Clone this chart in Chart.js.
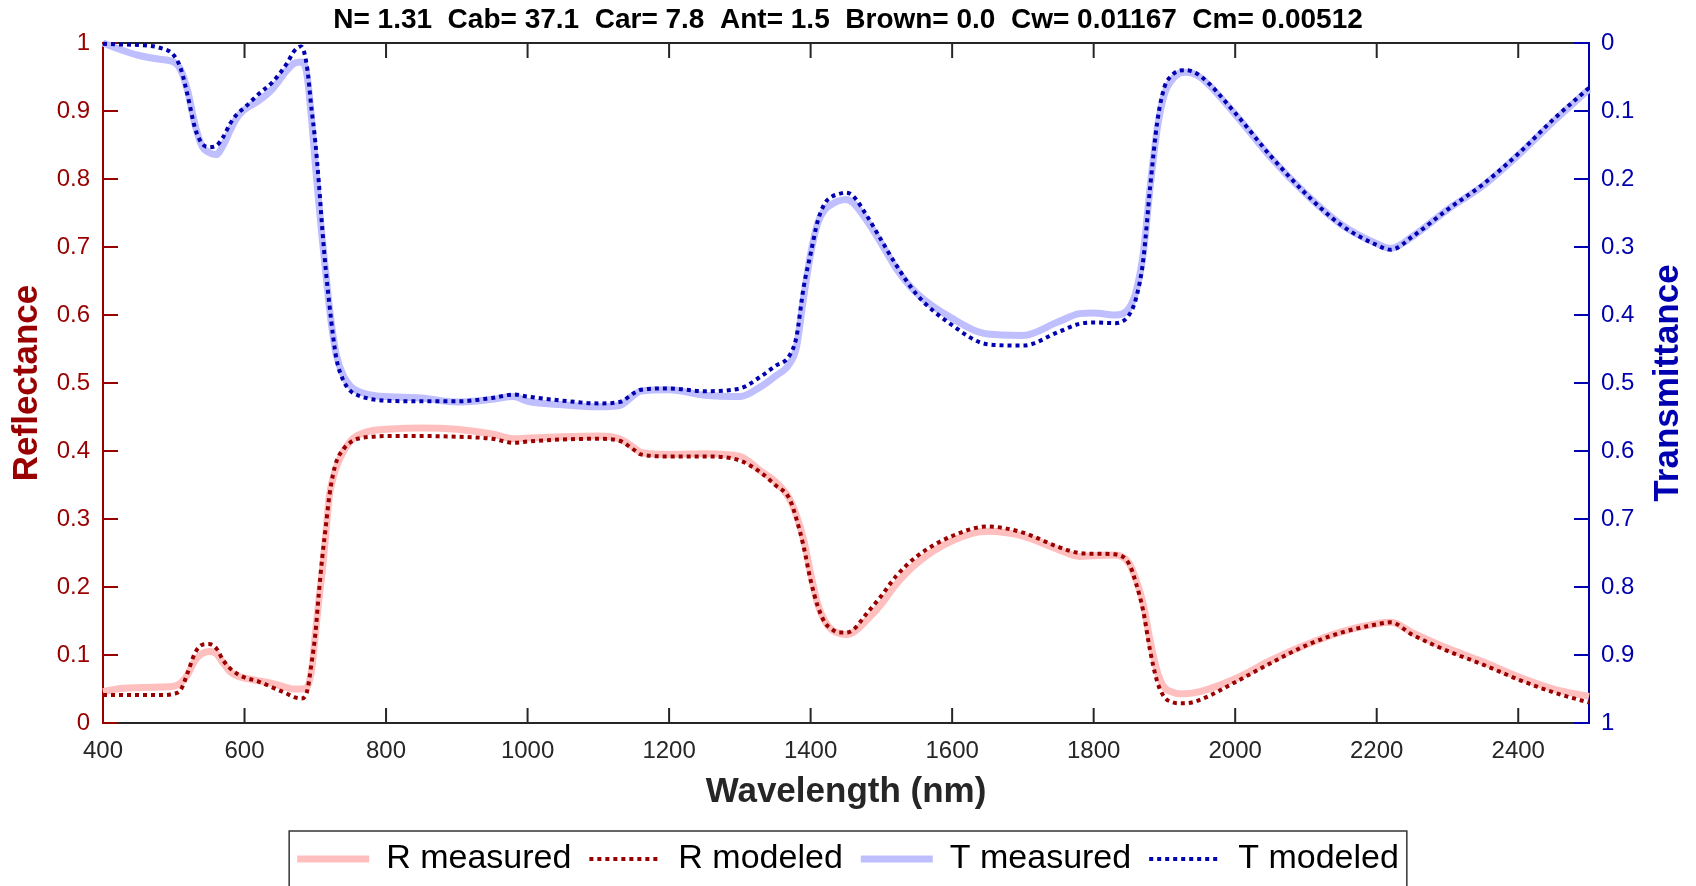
<!DOCTYPE html>
<html>
<head>
<meta charset="utf-8">
<script src="https://cdn.jsdelivr.net/npm/chart.js@4.4.0/dist/chart.umd.min.js"></script>
<style>
html,body{margin:0;padding:0;background:#fff;}
#wrap{width:1696px;height:886px;}
</style>
</head>
<body>
<div id="wrap"><canvas id="c" width="1696" height="886"></canvas></div>
<script>
// ---------------- DATA ----------------
const chartTitle = 'N= 1.31  Cab= 37.1  Car= 7.8  Ant= 1.5  Brown= 0.0  Cw= 0.01167  Cm= 0.00512';
const seriesNames = ['R measured', 'R modeled', 'T measured', 'T modeled'];
const xTickValues = [400, 600, 800, 1000, 1200, 1400, 1600, 1800, 2000, 2200, 2400];
const xTickLabels = ['400', '600', '800', '1000', '1200', '1400', '1600', '1800', '2000', '2200', '2400'];
const yTickValues = [0, 0.1, 0.2, 0.3, 0.4, 0.5, 0.6, 0.7, 0.8, 0.9, 1];
const yTickLabels = ['0', '0.1', '0.2', '0.3', '0.4', '0.5', '0.6', '0.7', '0.8', '0.9', '1'];

const wavelengths = [
  400, 420, 450, 480, 500, 510, 520, 530, 540, 550,
  560, 570, 580, 590, 600, 620, 640, 660, 670, 680,
  688, 695, 700, 705, 710, 715, 720, 725, 730, 740,
  750, 760, 780, 800, 850, 900, 950, 980, 1000, 1050,
  1100, 1130, 1150, 1160, 1200, 1250, 1300, 1330, 1350, 1370,
  1380, 1390, 1400, 1410, 1420, 1430, 1440, 1450, 1460, 1480,
  1500, 1520, 1550, 1600, 1650, 1700, 1750, 1780, 1800, 1830,
  1850, 1860, 1870, 1880, 1890, 1900, 1910, 1920, 1930, 1950,
  2000, 2050, 2100, 2150, 2200, 2220, 2250, 2300, 2350, 2400,
  2450, 2500
];

const rMeasured = [
  0.046, 0.050, 0.052, 0.053, 0.054, 0.059, 0.072, 0.092, 0.102, 0.105,
  0.102, 0.088, 0.075, 0.069, 0.066, 0.062, 0.058, 0.052, 0.050, 0.050,
  0.052, 0.080, 0.130, 0.180, 0.225, 0.280, 0.335, 0.360, 0.377, 0.400,
  0.415, 0.423, 0.430, 0.432, 0.434, 0.432, 0.425, 0.418, 0.419, 0.421,
  0.422, 0.418, 0.405, 0.398, 0.395, 0.396, 0.392, 0.370, 0.355, 0.330,
  0.305, 0.270, 0.220, 0.175, 0.150, 0.137, 0.132, 0.130, 0.133, 0.152,
  0.175, 0.203, 0.235, 0.268, 0.282, 0.275, 0.255, 0.245, 0.246, 0.247,
  0.235, 0.210, 0.175, 0.120, 0.075, 0.052, 0.046, 0.043, 0.043, 0.046,
  0.065, 0.092, 0.115, 0.134, 0.146, 0.148, 0.133, 0.110, 0.090, 0.068,
  0.050, 0.039
];

const rModeled = [
  0.041, 0.041, 0.041, 0.041, 0.043, 0.049, 0.075, 0.103, 0.115, 0.116,
  0.110, 0.092, 0.080, 0.072, 0.067, 0.061, 0.052, 0.043, 0.038, 0.036,
  0.045, 0.090, 0.130, 0.190, 0.245, 0.290, 0.335, 0.365, 0.385, 0.403,
  0.413, 0.418, 0.421, 0.422, 0.422, 0.421, 0.418, 0.412, 0.414, 0.417,
  0.418, 0.415, 0.402, 0.395, 0.392, 0.392, 0.386, 0.368, 0.350, 0.330,
  0.300, 0.260, 0.210, 0.172, 0.148, 0.138, 0.133, 0.133, 0.137, 0.162,
  0.187, 0.215, 0.245, 0.275, 0.289, 0.280, 0.259, 0.250, 0.249, 0.248,
  0.234, 0.205, 0.165, 0.105, 0.060, 0.038, 0.031, 0.029, 0.029, 0.034,
  0.060, 0.088, 0.114, 0.133, 0.145, 0.148, 0.130, 0.106, 0.086, 0.064,
  0.045, 0.030
];

const tMeasured = [
  0.000, 0.008, 0.018, 0.024, 0.028, 0.040, 0.072, 0.120, 0.152, 0.161,
  0.164, 0.150, 0.128, 0.109, 0.098, 0.085, 0.067, 0.040, 0.030, 0.028,
  0.045, 0.115, 0.178, 0.235, 0.290, 0.340, 0.390, 0.430, 0.460, 0.490,
  0.505, 0.512, 0.518, 0.520, 0.522, 0.528, 0.524, 0.520, 0.527, 0.532,
  0.535, 0.533, 0.518, 0.512, 0.510, 0.518, 0.520, 0.505, 0.490, 0.472,
  0.447, 0.375, 0.310, 0.265, 0.245, 0.237, 0.232, 0.230, 0.235, 0.262,
  0.295, 0.330, 0.368, 0.405, 0.428, 0.430, 0.410, 0.398, 0.397, 0.400,
  0.390, 0.365, 0.310, 0.210, 0.125, 0.075, 0.055, 0.045, 0.043, 0.050,
  0.105, 0.168, 0.222, 0.267, 0.295, 0.302, 0.285, 0.245, 0.210, 0.165,
  0.115, 0.068
];

const tModeled = [
  0.001, 0.002, 0.003, 0.007, 0.018, 0.038, 0.079, 0.125, 0.148, 0.153,
  0.151, 0.138, 0.118, 0.104, 0.095, 0.075, 0.057, 0.030, 0.012, 0.005,
  0.033, 0.100, 0.145, 0.205, 0.275, 0.335, 0.385, 0.430, 0.465, 0.497,
  0.512, 0.518, 0.524, 0.526, 0.527, 0.527, 0.522, 0.517, 0.520, 0.526,
  0.530, 0.528, 0.515, 0.510, 0.508, 0.512, 0.508, 0.490, 0.475, 0.460,
  0.432, 0.360, 0.310, 0.262, 0.236, 0.226, 0.222, 0.220, 0.225, 0.255,
  0.290, 0.325, 0.370, 0.415, 0.443, 0.445, 0.425, 0.413, 0.411, 0.412,
  0.400, 0.375, 0.320, 0.210, 0.115, 0.065, 0.048, 0.041, 0.040, 0.048,
  0.103, 0.166, 0.222, 0.268, 0.297, 0.304, 0.285, 0.245, 0.208, 0.163,
  0.112, 0.066
];

// ---------------- STYLE ----------------
const FONT = "'Liberation Sans', Arial, Helvetica, sans-serif";
const DARK_RED = '#990000';
const BLUE = '#0000B0';
const AXIS = '#262626';
const PINK = '#FFBFBF';
const LIGHT_BLUE = '#BFBFFF';
const TICK_LEN = 15;
const PLOT_BOTTOM = 723;
const TICK_FONT = { family: FONT, size: 24 };

Chart.defaults.font.family = FONT;
Chart.defaults.font.size = 24;

const toPoints = (vals) => wavelengths.map((w, i) => ({ x: w, y: vals[i] }));

const axesPlugin = {
  id: 'matlabAxes',
  beforeDatasetsDraw(chart) {
    const { ctx, chartArea: { left, right, top, bottom }, scales: { x, y, y2 } } = chart;
    const seg = (x1, y1, x2, y2_) => { ctx.beginPath(); ctx.moveTo(x1, y1); ctx.lineTo(x2, y2_); ctx.stroke(); };
    ctx.save();
    ctx.lineWidth = 2;
    ctx.lineCap = 'butt';
    ctx.strokeStyle = AXIS;
    seg(left, top, right, top);
    seg(left, bottom, right, bottom);
    xTickValues.forEach(v => {
      const px = x.getPixelForValue(v);
      seg(px, bottom, px, bottom - TICK_LEN);
      seg(px, top, px, top + TICK_LEN);
    });
    ctx.strokeStyle = DARK_RED;
    seg(left, top - 1, left, bottom + 1);
    yTickValues.forEach(v => {
      const py = y.getPixelForValue(v);
      seg(left, py, left + TICK_LEN, py);
    });
    ctx.strokeStyle = BLUE;
    seg(right, top - 1, right, bottom + 1);
    yTickValues.forEach(v => {
      const py = y2.getPixelForValue(v);
      seg(right, py, right - TICK_LEN, py);
    });
    ctx.restore();
  },
  afterDraw(chart) {
    const { ctx, chartArea: { top, bottom } } = chart;
    // right axis title, reading bottom-to-top
    ctx.save();
    ctx.translate(1668, (top + bottom) / 2);
    ctx.rotate(-Math.PI / 2);
    ctx.fillStyle = BLUE;
    ctx.font = 'bold 35px ' + FONT;
    ctx.textAlign = 'center';
    ctx.textBaseline = 'middle';
    ctx.fillText('Transmittance', 0, 0);
    ctx.restore();
    // legend frame
    const lg = chart.legend;
    if (lg && lg.legendHitBoxes && lg.legendHitBoxes.length) {
      const hb = lg.legendHitBoxes;
      const l = hb[0].left - 8;
      const last = hb[hb.length - 1];
      const r = last.left + last.width + 8;
      const t = hb[0].top - 11;
      ctx.save();
      ctx.strokeStyle = '#333333';
      ctx.lineWidth = 1.5;
      ctx.strokeRect(l, t, r - l, chart.height + 10 - t);
      ctx.restore();
    }
  }
};

const ctx = document.getElementById('c').getContext('2d');
new Chart(ctx, {
  type: 'line',
  data: {
    datasets: [
      { label: seriesNames[0], data: toPoints(rMeasured), yAxisID: 'y', borderColor: PINK, backgroundColor: PINK, borderWidth: 7, order: 4, borderCapStyle: 'butt' },
      { label: seriesNames[1], data: toPoints(rModeled), yAxisID: 'y', borderColor: DARK_RED, backgroundColor: DARK_RED, borderWidth: 4, borderDash: [4, 4], order: 3, borderCapStyle: 'butt' },
      { label: seriesNames[2], data: toPoints(tMeasured), yAxisID: 'y2', borderColor: LIGHT_BLUE, backgroundColor: LIGHT_BLUE, borderWidth: 7, order: 2, borderCapStyle: 'butt' },
      { label: seriesNames[3], data: toPoints(tModeled), yAxisID: 'y2', borderColor: BLUE, backgroundColor: BLUE, borderWidth: 4, borderDash: [4, 4], order: 1, borderCapStyle: 'butt' }
    ]
  },
  options: {
    responsive: false,
    animation: false,
    devicePixelRatio: 1,
    layout: { padding: 0 },
    elements: {
      point: { radius: 0, hoverRadius: 0 },
      line: { cubicInterpolationMode: 'monotone', borderJoinStyle: 'round', fill: false }
    },
    datasets: { line: { clip: 5 } },
    scales: {
      x: {
        type: 'linear', position: 'bottom', min: 400, max: 2500,
        afterBuildTicks: s => { s.ticks = xTickValues.map(v => ({ value: v })); },
        afterFit: s => { s.height = s.chart.height - PLOT_BOTTOM - (s.chart.legend ? s.chart.legend.height : 0); },
        grid: { display: false, drawTicks: false },
        border: { display: false },
        ticks: { color: AXIS, font: TICK_FONT, padding: 14, maxRotation: 0, autoSkip: false, callback: (v, i) => xTickLabels[i] },
        title: { display: true, text: 'Wavelength (nm)', color: AXIS, font: { family: FONT, size: 35, weight: 'bold' }, padding: { top: 6, bottom: 11 } }
      },
      y: {
        type: 'linear', position: 'left', min: 0, max: 1,
        afterBuildTicks: s => { s.ticks = yTickValues.map(v => ({ value: v })); },
        afterFit: s => { s.width = 103; },
        grid: { display: false, drawTicks: false },
        border: { display: false },
        ticks: { color: DARK_RED, font: TICK_FONT, padding: 13, callback: (v, i) => yTickLabels[i] },
        title: { display: true, text: 'Reflectance', color: DARK_RED, font: { family: FONT, size: 35, weight: 'bold' }, padding: { top: 6, bottom: 0 } }
      },
      y2: {
        type: 'linear', position: 'right', min: 0, max: 1, reverse: true,
        afterBuildTicks: s => { s.ticks = yTickValues.map(v => ({ value: v })); },
        afterFit: s => { s.width = 107; },
        grid: { display: false, drawTicks: false },
        border: { display: false },
        ticks: { color: BLUE, font: TICK_FONT, padding: 12, callback: (v, i) => yTickLabels[i] }
      }
    },
    plugins: {
      title: {
        display: true, text: chartTitle, color: '#000000',
        font: { family: FONT, size: 28, weight: 'bold' },
        padding: { top: 3.2, bottom: 6.2 }
      },
      legend: {
        position: 'bottom',
        labels: {
          usePointStyle: true, pointStyle: 'line', pointStyleWidth: 72,
          color: '#000000', font: { family: FONT, size: 34 }, padding: 18,
          sort: (a, b) => a.datasetIndex - b.datasetIndex,
          generateLabels: (chart) => {
            const items = Chart.defaults.plugins.legend.labels.generateLabels(chart);
            items.forEach(it => {
              const ds = chart.data.datasets[it.datasetIndex];
              it.lineDash = ds.borderDash || [];
              it.lineWidth = ds.borderWidth;
              it.lineCap = 'butt';
              it.strokeStyle = ds.borderColor;
            });
            return items;
          }
        }
      },
      tooltip: { enabled: false }
    }
  },
  plugins: [axesPlugin]
});
</script>
</body>
</html>
